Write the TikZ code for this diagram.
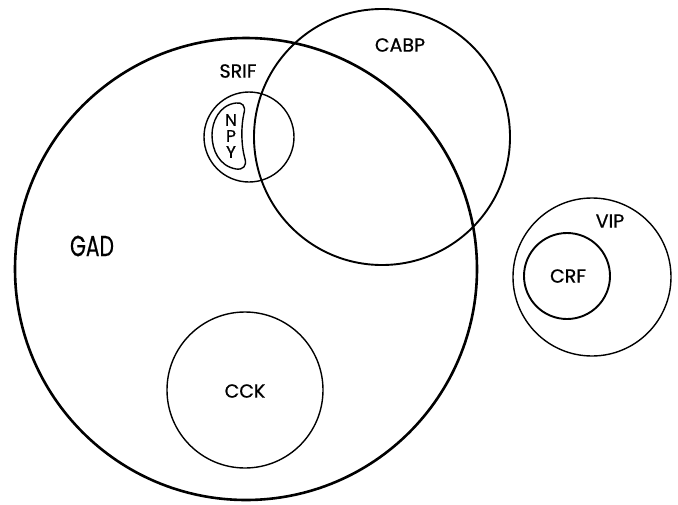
\documentclass[tikz,border=0pt]{standalone}
\usepackage{fontspec}
\setmainfont{Poppins}
\newfontfamily\medfont{Poppins}[FakeBold=0.7]
\begin{document}
\begin{tikzpicture}[x=1pt,y=-1pt,
  thickring/.style={line width=2.6pt},
  midring/.style={line width=1.9pt},
  thinring/.style={line width=1.4pt},
  lbl/.style={font=\medfont\fontsize{19}{19}\selectfont, inner sep=0pt},
  npylbl/.style={font=\medfont\fontsize{17}{17}\selectfont, inner sep=0pt}]
\useasboundingbox (0,0) rectangle (678,504);
% GAD
\draw[thickring] (246,269) circle[radius=231pt];
% CABP
\draw[midring] (382,137) circle[radius=128pt];
% SRIF
\draw[thinring] (249,137) circle[radius=45pt];
% NPY outline
\draw[thinring] (236,103) .. controls (219,105) and (212,122) .. (212,135)
  .. controls (212,150) and (219,166) .. (236,169)
  .. controls (243,170) and (247,166) .. (245,159)
  .. controls (241,145) and (241,126) .. (244,113)
  .. controls (246,106) and (242,102) .. (236,103);
% CCK
\draw[thinring] (245,390) circle[radius=78pt];
% VIP
\draw[thinring] (592,277) circle[radius=79pt];
% CRF
\draw[midring] (567,276) circle[radius=43pt];
% labels
\node[inner sep=0pt] (gad) at (92,246) {\scalebox{0.7}[1]{\medfont\fontsize{29}{29}\selectfont GAD}};
\node[lbl] (cabp) at (400,45) {CABP};
\node[lbl] (srif) at (238,71) {SRIF};
\node[npylbl] (n) at (231,120) {N};
\node[npylbl] (p) at (231,136) {P};
\node[npylbl] (y) at (231,152) {Y};
\node[lbl] (cck) at (245,391) {CCK};
\node[lbl] (vip) at (610,221) {VIP};
\node[lbl] (crf) at (568,276) {CRF};
\end{tikzpicture}
\end{document}
